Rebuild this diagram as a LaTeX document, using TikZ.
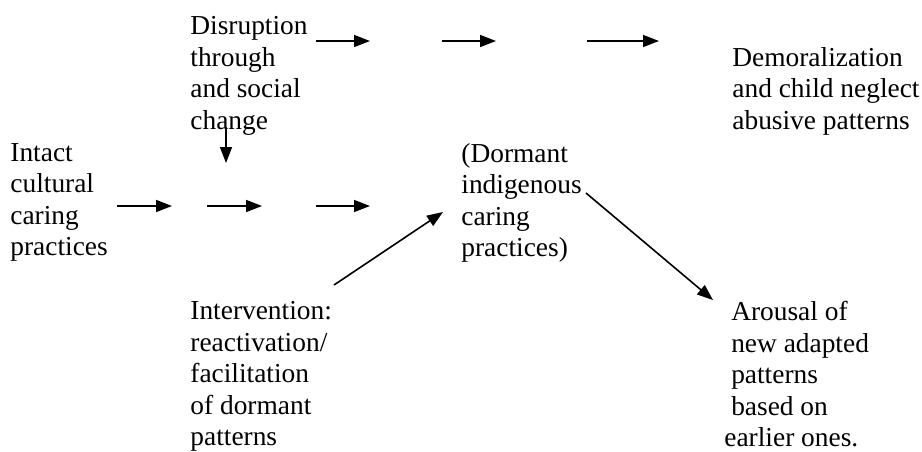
\documentclass[tikz,border=0pt]{standalone}
\usepackage{fontspec}
\setmainfont{Liberation Serif}
\usetikzlibrary{arrows.meta}
\tikzset{
  txt/.style={anchor=north west,inner sep=0pt,align=left,
    font=\fontsize{13.7}{15.75}\selectfont,execute at begin node=\strut},
  arr/.style={-{Triangle[length=8pt,width=6pt]},line width=0.8pt}
}

\begin{document}
\begin{tikzpicture}[x=0.5pt,y=-0.5pt]
  \useasboundingbox (0,0) rectangle (922,451);
  \node[txt] (disrupt) at (190,16) {Disruption\\through\\and social\\change};
  \node[txt] (demoral) at (732,47) {Demoralization\\and child neglect\\abusive patterns};
  \node[txt] (intact) at (10,143) {Intact\\cultural\\caring\\practices};
  \node[txt] (dormant) at (461,143) {(Dormant\\indigenous\\caring\\practices)};
  \node[txt] (interv) at (190,301) {Intervention:\\reactivation/\\facilitation\\of dormant\\patterns};
  \node[txt] (arousal) at (724,301) {\hspace*{0.25em}Arousal of\\\hspace*{0.25em}new adapted\\\hspace*{0.25em}patterns\\\hspace*{0.25em}based on\\earlier ones.};
  % arrow ends
  \coordinate (t1a) at (316,41);  \coordinate (t1b) at (370,41);
  \coordinate (t2a) at (442,41);  \coordinate (t2b) at (496,41);
  \coordinate (t3a) at (587,41);  \coordinate (t3b) at (659,41);
  \coordinate (va) at (226,127);  \coordinate (vb) at (226,163);
  \coordinate (m1a) at (117,206); \coordinate (m1b) at (172,206);
  \coordinate (m2a) at (207,206); \coordinate (m2b) at (262,206);
  \coordinate (m3a) at (316,206); \coordinate (m3b) at (370,206);
  \coordinate (d1a) at (334,285); \coordinate (d1b) at (443,212);
  \coordinate (d2a) at (586,193); \coordinate (d2b) at (713,300);
  \path[arr]
    (t1a) edge (t1b)
    (t2a) edge (t2b)
    (t3a) edge (t3b)
    (va) edge (vb)
    (m1a) edge (m1b)
    (m2a) edge (m2b)
    (m3a) edge (m3b)
    (d1a) edge (d1b)
    (d2a) edge (d2b);
\end{tikzpicture}
\end{document}
